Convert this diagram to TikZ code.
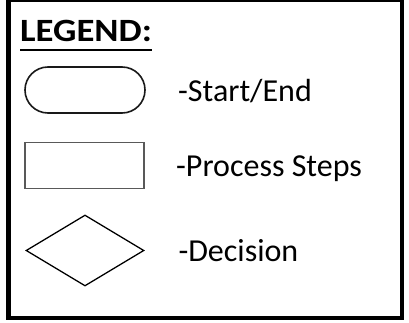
\documentclass[tikz,border=0pt]{standalone}
\usepackage{fontspec}
\setmainfont{Carlito}
\usetikzlibrary{shapes.geometric,calc}
\begin{document}
\begin{tikzpicture}[x=1pt,y=1pt,
  frame/.style={draw=black,line width=4.8pt},
  pill/.style={draw=black!90,line width=1.6pt,rounded corners=23pt,minimum width=120pt,minimum height=46pt,inner sep=0pt},
  procbox/.style={draw=black!65,line width=1.5pt,minimum width=119pt,minimum height=46pt,inner sep=0pt},
  decbox/.style={diamond,draw=black,line width=1.3pt,minimum width=118pt,minimum height=71pt,inner sep=0pt},
  lbl/.style={anchor=base west,inner sep=0pt,font=\fontsize{32}{38}\selectfont},
  ttl/.style={anchor=base west,inner sep=0pt,font=\fontsize{32.5}{38}\selectfont\bfseries}]
\useasboundingbox (0,0) rectangle (409,-323);
\draw[frame] (8.4,0.3) rectangle (402,-318);
\node[ttl] (title) at (20,-41.7) {\scalebox{1.13}[1]{LEGEND:}};
\draw[line width=2.4pt] ($(title.base west)+(0,-8.3)$) coordinate (ulA) -- ($(title.base east)+(0,-8.3)$) coordinate (ulB);
\node[pill] (startend) at (85,-90) {};
\node[procbox] (process) at (84.5,-165.3) {};
\node[decbox] (decision) at (85,-250.5) {};
\node[lbl] (t1) at (178,-101.7) {-Start/End};
\node[lbl] (t2) at (176,-176.7) {-Process Steps};
\node[lbl] (t3) at (178.3,-261) {-Decision};
\end{tikzpicture}
\end{document}
